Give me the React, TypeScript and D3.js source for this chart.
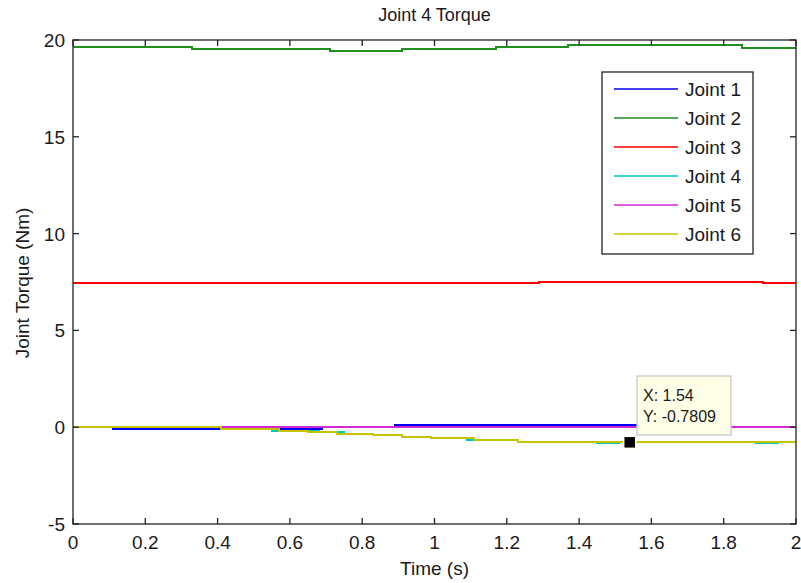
import React, { useEffect, useRef } from 'react';
import * as d3 from 'd3';

// step data (time in s, torque in Nm)
const joint1T = [0, 0.11, 0.41, 0.57, 0.69, 0.89, 1.6, 2];
const joint1V = [0, -0.11, 0, -0.1, 0, 0.09, 0, 0];
const joint2T = [0, 0.33, 0.71, 0.91, 1.17, 1.37, 1.85, 2];
const joint2V = [19.65, 19.55, 19.45, 19.53, 19.65, 19.72, 19.6, 19.6];
const joint3T = [0, 1.29, 1.91, 2];
const joint3V = [7.43, 7.5, 7.43, 7.43];
const joint4T = [0, 0.41, 0.55, 0.68, 0.75, 0.83, 0.91, 0.99, 1.09, 1.23, 1.45, 1.51, 1.89, 1.95, 2];
const joint4V = [0, -0.11, -0.18, -0.26, -0.34, -0.4, -0.49, -0.57, -0.66, -0.75, -0.8, -0.76, -0.8, -0.76, -0.76];
const joint5T = [0, 2];
const joint5V = [0, 0];
const joint6T = [0, 0.41, 0.57, 0.65, 0.73, 0.83, 0.91, 0.99, 1.11, 1.23, 2];
const joint6V = [0, -0.11, -0.18, -0.26, -0.34, -0.4, -0.49, -0.57, -0.66, -0.76, -0.76];

const seriesNames = ['Joint 1', 'Joint 2', 'Joint 3', 'Joint 4', 'Joint 5', 'Joint 6'];
const seriesColors = ['#0000ff', '#1f8f1f', '#ff0000', '#00c4c4', '#d22ad2', '#c4c400'];
const xTicks = [0, 0.2, 0.4, 0.6, 0.8, 1, 1.2, 1.4, 1.6, 1.8, 2];
const yTicks = [-5, 0, 5, 10, 15, 20];

const dataTipX = 1.54;
const dataTipY = -0.7809;

const FONT = '"Liberation Sans", Arial, sans-serif';

export default function App() {
  const svgRef = useRef<SVGSVGElement>(null);

  useEffect(() => {
    const svg = d3.select(svgRef.current);
    svg.selectAll('*').remove();

    const W = 801, H = 583;
    const left = 73, right = 796, top = 40, bottom = 524;

    svg.append('rect').attr('width', W).attr('height', H).attr('fill', '#fff');

    const x = d3.scaleLinear().domain([0, 2]).range([left, right]);
    const y = d3.scaleLinear().domain([-5, 20]).range([bottom, top]);

    const series = [
      [joint1T, joint1V], [joint2T, joint2V], [joint3T, joint3V],
      [joint4T, joint4V], [joint5T, joint5V], [joint6T, joint6V],
    ].map(([t, v], i) => ({
      name: seriesNames[i],
      color: seriesColors[i],
      points: t.map((tt, k) => ({ t: tt, v: v[k] })),
    }));

    const line = d3.line<{ t: number; v: number }>()
      .curve(d3.curveStepAfter)
      .x(d => x(d.t))
      .y(d => y(d.v));

    // crisp edges so overlapping lines don't blend into odd colours
    const plot = svg.append('g').attr('shape-rendering', 'crispEdges');
    series.forEach(s => {
      plot.append('path')
        .datum(s.points)
        .attr('d', line)
        .attr('fill', 'none')
        .attr('stroke', s.color)
        .attr('stroke-width', 2);
    });

    // box + inward ticks on all sides (matlab style)
    const tickLen = 6;
    const axes = svg.append('g').attr('stroke', '#222').attr('stroke-width', 1.3);
    axes.append('rect')
      .attr('x', left).attr('y', top)
      .attr('width', right - left).attr('height', bottom - top)
      .attr('fill', 'none');
    xTicks.forEach(t => {
      axes.append('line').attr('x1', x(t)).attr('x2', x(t)).attr('y1', bottom).attr('y2', bottom - tickLen);
      axes.append('line').attr('x1', x(t)).attr('x2', x(t)).attr('y1', top).attr('y2', top + tickLen);
    });
    yTicks.forEach(v => {
      axes.append('line').attr('x1', left).attr('x2', left + tickLen).attr('y1', y(v)).attr('y2', y(v));
      axes.append('line').attr('x1', right).attr('x2', right - tickLen).attr('y1', y(v)).attr('y2', y(v));
    });

    const txt = svg.append('g').attr('font-family', FONT).attr('fill', '#1a1a1a');
    xTicks.forEach(t => {
      txt.append('text')
        .attr('x', x(t)).attr('y', bottom + 25)
        .attr('text-anchor', 'middle').attr('font-size', 19)
        .text(d3.format('~g')(t));
    });
    yTicks.forEach(v => {
      txt.append('text')
        .attr('x', left - 8).attr('y', y(v) + 7)
        .attr('text-anchor', 'end').attr('font-size', 19)
        .text(v);
    });

    txt.append('text')
      .attr('x', (left + right) / 2).attr('y', 21)
      .attr('text-anchor', 'middle').attr('font-size', 18)
      .text('Joint 4 Torque');
    txt.append('text')
      .attr('x', (left + right) / 2).attr('y', 575)
      .attr('text-anchor', 'middle').attr('font-size', 19)
      .text('Time (s)');
    txt.append('text')
      .attr('transform', `translate(29,${(top + bottom) / 2 + 1}) rotate(-90)`)
      .attr('text-anchor', 'middle').attr('font-size', 19)
      .text('Joint Torque (Nm)');

    // legend
    const lg = svg.append('g').attr('transform', 'translate(602,72)');
    lg.append('rect')
      .attr('width', 151).attr('height', 182)
      .attr('fill', '#fff').attr('stroke', '#222').attr('stroke-width', 1.3);
    series.forEach((s, i) => {
      const ry = 17 + i * 29;
      lg.append('line')
        .attr('x1', 12).attr('x2', 76).attr('y1', ry).attr('y2', ry)
        .attr('stroke', s.color).attr('stroke-width', 1.7);
      lg.append('text')
        .attr('x', 83).attr('y', ry + 7)
        .attr('font-family', FONT).attr('font-size', 19).attr('fill', '#1a1a1a')
        .text(s.name);
    });

    // data tip
    const mx = x(dataTipX), my = y(dataTipY);
    svg.append('rect')
      .attr('x', mx - 6).attr('y', my - 6).attr('width', 12).attr('height', 12)
      .attr('fill', '#000').attr('stroke', '#fffff0').attr('stroke-width', 1.5);
    const tip = svg.append('g').attr('transform', 'translate(637,376)');
    tip.append('rect')
      .attr('width', 94).attr('height', 59)
      .attr('fill', '#ffffe8').attr('stroke', '#c8c8c8').attr('stroke-width', 1.3);
    tip.append('text')
      .attr('x', 6).attr('y', 25)
      .attr('font-family', FONT).attr('font-size', 16).attr('fill', '#1a1a1a')
      .text(`X: ${dataTipX}`);
    tip.append('text')
      .attr('x', 6).attr('y', 46)
      .attr('font-family', FONT).attr('font-size', 16).attr('fill', '#1a1a1a')
      .text(`Y: ${dataTipY}`);
  }, []);

  return (
    <svg
      ref={svgRef}
      width={801}
      height={583}
      style={{ position: 'absolute', left: 0, top: 0, display: 'block' }}
    />
  );
}
